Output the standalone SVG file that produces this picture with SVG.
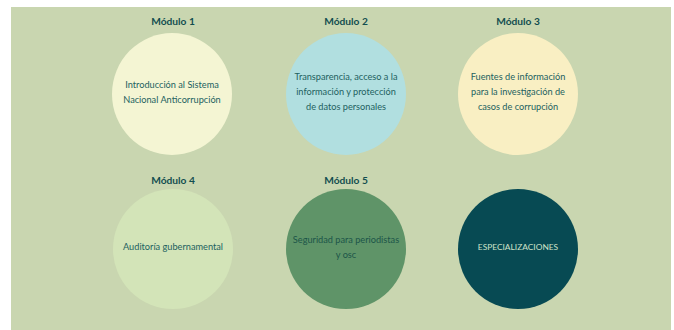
<svg xmlns="http://www.w3.org/2000/svg" width="674" height="330" viewBox="0 0 674 330">
<style>
.t{font-family:Lato,"Open Sans","Liberation Sans",sans-serif;font-weight:700;font-size:10.2px;fill:#124d4f;text-anchor:middle}
.b{font-family:Lato,"Open Sans","Liberation Sans",sans-serif;font-size:9.2px;fill:#22615f;text-anchor:middle}
</style>
<rect x="0" y="0" width="674" height="330" fill="#ffffff"/>
<rect x="11" y="7" width="660" height="323" fill="#c9d6b0"/>
<g id="m1">
<text class="t" x="173" y="25">Módulo 1</text>
<ellipse cx="172" cy="94" rx="60" ry="61" fill="#f4f5d3"/>
<text class="b" x="172" y="88">Introducción al Sistema</text>
<text class="b" x="172" y="103">Nacional Anticorrupción</text>
</g>
<g id="m2">
<text class="t" x="346" y="25">Módulo 2</text>
<ellipse cx="346" cy="94" rx="60" ry="61" fill="#b1dfe0"/>
<text class="b" x="346" y="80">Transparencia, acceso a la</text>
<text class="b" x="346" y="95">información y protección</text>
<text class="b" x="346" y="110">de datos personales</text>
</g>
<g id="m3">
<text class="t" x="518" y="25">Módulo 3</text>
<ellipse cx="518" cy="94" rx="60" ry="61" fill="#f9efc3"/>
<text class="b" x="518" y="80">Fuentes de información</text>
<text class="b" x="518" y="95">para la investigación de</text>
<text class="b" x="518" y="110">casos de corrupción</text>
</g>
<g id="m4">
<text class="t" x="173" y="184">Módulo 4</text>
<ellipse cx="173" cy="249" rx="60" ry="60" fill="#d3e4b8"/>
<text class="b" x="173" y="250">Auditoría gubernamental</text>
</g>
<g id="m5">
<text class="t" x="346" y="184">Módulo 5</text>
<ellipse cx="346" cy="249" rx="60" ry="60" fill="#5f9468"/>
<text class="b" x="346" y="243" style="fill:#1c5548">Seguridad para periodistas</text>
<text class="b" x="346" y="258" style="fill:#1c5548">y osc</text>
</g>
<g id="esp">
<ellipse cx="518" cy="249" rx="60" ry="60" fill="#074a53"/>
<text class="b" x="518" y="250" style="fill:#cfe3c9;font-size:8.4px">ESPECIALIZACIONES</text>
</g>
<g id="connectors"/>
</svg>
